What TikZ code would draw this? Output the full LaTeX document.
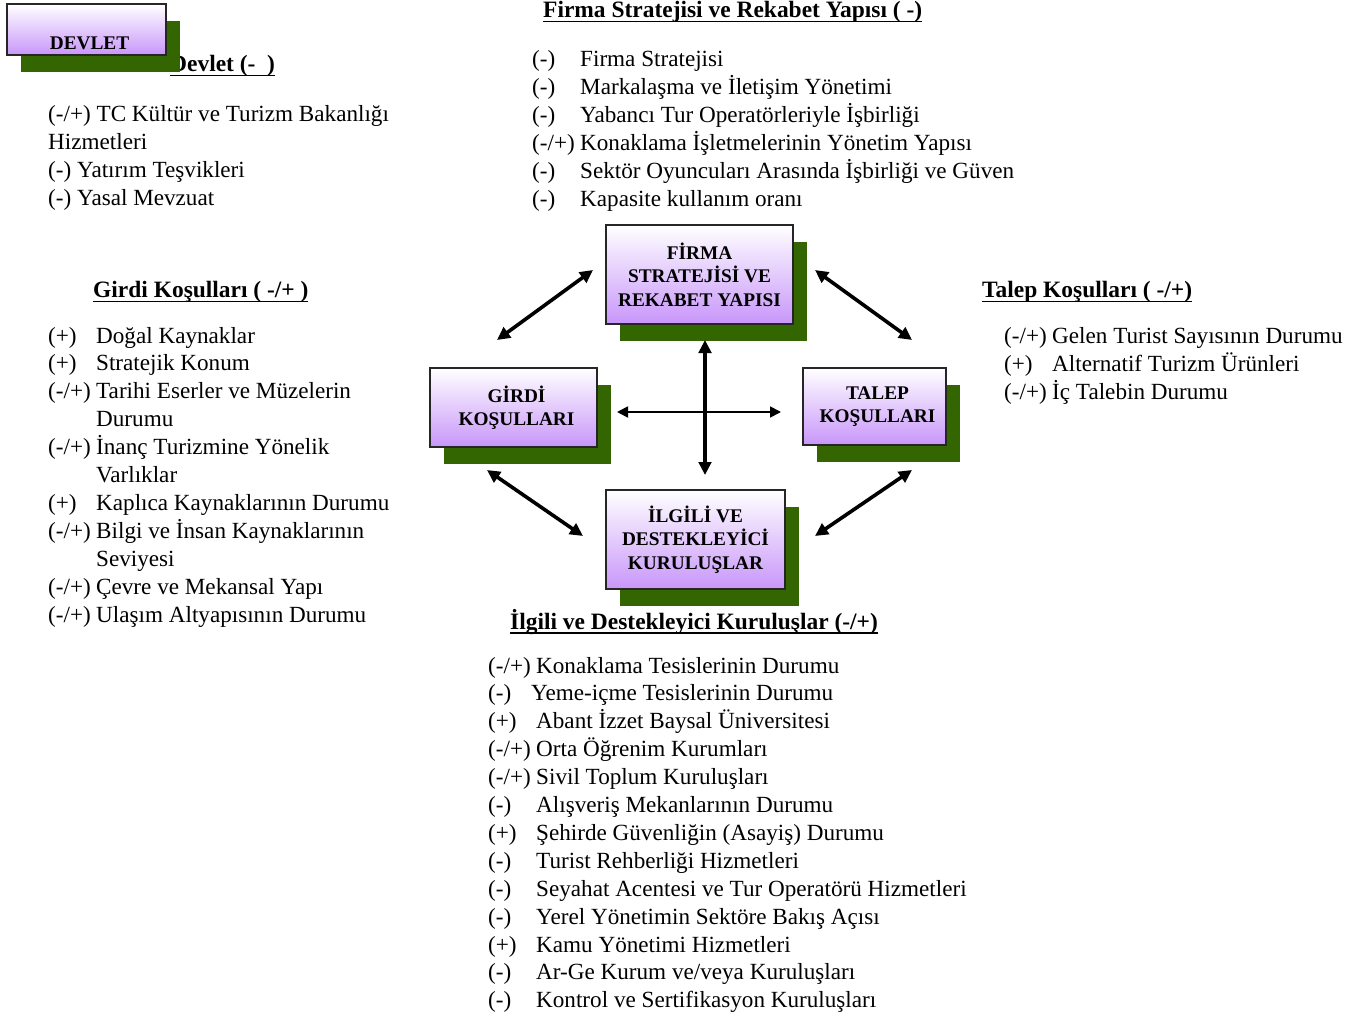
\documentclass[tikz,border=0pt]{standalone}
\usepackage{fontspec}
\setmainfont{Liberation Serif}
\usetikzlibrary{arrows.meta}
\definecolor{shgreen}{RGB}{51,102,0}
\definecolor{boxviolet}{RGB}{200,150,250}
\newcommand\ulx[1]{\setbox0\hbox{#1}\rlap{\rule[-4.5pt]{\wd0}{1.5pt}}\box0}
\newcommand\lsi[3][48pt]{\makebox[#1][l]{#2}#3}
\newcommand\boxsh[4]{\fill[shgreen] ({#1+14},{#2+17}) rectangle ({#3+14},{#4+17});}
\newcommand\sh{\hspace*{6pt}}
\begin{document}
\begin{tikzpicture}[x=1pt,y=-1pt,
  txt/.style={inner sep=0pt, anchor=base west, font=\fontsize{23.15}{28}\selectfont},
  head/.style={inner sep=0pt, anchor=base west, font=\fontsize{23.45}{28}\selectfont\bfseries},
  bx/.style={draw=black!85, line width=1.2pt, top color=white, bottom color=boxviolet,
    align=center, inner sep=0pt, font=\fontsize{19.3}{23.5}\selectfont\bfseries},
  bigarrow/.style={line width=3.6pt, {Triangle[length=13pt,width=12.5pt]}-{Triangle[length=13pt,width=12.5pt]}},
  smallarrow/.style={line width=1.8pt, {Triangle[length=11pt,width=11pt]}-{Triangle[length=11pt,width=11pt]}}]
\useasboundingbox (0,0) rectangle (1353,1019);

% headings
\node[head] (hdevlet) at (170,72) {\ulx{Devlet (-\ \ )}};
\node[head] (hfirma) at (543,18) {\ulx{Firma Stratejisi ve Rekabet Yapısı ( -)}};
\node[head] (hgirdi) at (93,298) {\ulx{Girdi Koşulları ( -/+ )}};
\node[head] (htalep) at (982,298) {\ulx{Talep Koşulları ( -/+)}};
\node[head] (hilgili) at (510,629) {\ulx{İlgili ve Destekleyici Kuruluşlar (-/+)}};

% Devlet list
\foreach \t [count=\i] in {{(-/+) TC Kültür ve Turizm Bakanlığı},{Hizmetleri},{(-) Yatırım Teşvikleri},{(-) Yasal Mevzuat}}
  \node[txt, name=dl\i] at (48,{122+27.7*(\i-1)}) {\t};

% Firma list
\foreach \t [count=\i] in {{\lsi{(-)}{Firma Stratejisi}},{\lsi{(-)}{Markalaşma ve İletişim Yönetimi}},
  {\lsi{(-)}{Yabancı Tur Operatörleriyle İşbirliği}},{\lsi{(-/+)}{Konaklama İşletmelerinin Yönetim Yapısı}},
  {\lsi{(-)}{Sektör Oyuncuları Arasında İşbirliği ve Güven}},{\lsi{(-)}{Kapasite kullanım oranı}}}
  \node[txt, name=fl\i] at (532,{67+28*(\i-1)}) {\t};

% Girdi list
\foreach \t [count=\i] in {{\lsi{(+)}{Doğal Kaynaklar}},{\lsi{(+)}{Stratejik Konum}},
  {\lsi{(-/+)}{Tarihi Eserler ve Müzelerin}},{\lsi{}{Durumu}},
  {\lsi{(-/+)}{İnanç Turizmine Yönelik}},{\lsi{}{Varlıklar}},
  {\lsi{(+)}{Kaplıca Kaynaklarının Durumu}},{\lsi{(-/+)}{Bilgi ve İnsan Kaynaklarının}},
  {\lsi{}{Seviyesi}},{\lsi{(-/+)}{Çevre ve Mekansal Yapı}},{\lsi{(-/+)}{Ulaşım Altyapısının Durumu}}}
  \node[txt, name=gl\i] at (48,{343+27.9*(\i-1)}) {\t};

% Talep list
\foreach \t [count=\i] in {{\lsi{(-/+)}{Gelen Turist Sayısının Durumu}},{\lsi{(+)}{Alternatif Turizm Ürünleri}},
  {\lsi{(-/+)}{İç Talebin Durumu}}}
  \node[txt, name=tl\i] at (1004,{343+28*(\i-1)}) {\t};

% Ilgili list
\foreach \t [count=\i] in {{\lsi{(-/+)}{Konaklama Tesislerinin Durumu}},{\lsi[43pt]{(-)}{Yeme-içme Tesislerinin Durumu}},
  {\lsi{(+)}{Abant İzzet Baysal Üniversitesi}},{\lsi{(-/+)}{Orta Öğrenim Kurumları}},
  {\lsi{(-/+)}{Sivil Toplum Kuruluşları}},{\lsi{(-)}{Alışveriş Mekanlarının Durumu}},
  {\lsi{(+)}{Şehirde Güvenliğin (Asayiş) Durumu}},{\lsi{(-)}{Turist Rehberliği Hizmetleri}},
  {\lsi{(-)}{Seyahat Acentesi ve Tur Operatörü Hizmetleri}},{\lsi{(-)}{Yerel Yönetimin Sektöre Bakış Açısı}},
  {\lsi{(+)}{Kamu Yönetimi Hizmetleri}},{\lsi{(-)}{Ar-Ge Kurum ve/veya Kuruluşları}},
  {\lsi{(-)}{Kontrol ve Sertifikasyon Kuruluşları}}}
  \node[txt, name=il\i] at (488,{673+27.9*(\i-1)}) {\t};

% shadows
\boxsh{7}{4}{166}{55}
\boxsh{606}{225}{793}{324}
\boxsh{430}{368}{597}{447}
\boxsh{803}{368}{946}{445}
\boxsh{606}{490}{785}{589}

% boxes
\node[bx, minimum width=159, minimum height=51] (devlet) at (86.5,29.5) {\raisebox{-20pt}[0pt][0pt]{\sh DEVLET}};
\node[bx, minimum width=187, minimum height=99] (firma) at (699.5,274.5) {FİRMA\\STRATEJİSİ VE\\REKABET YAPISI};
\node[bx, minimum width=167, minimum height=79] (girdi) at (513.5,407.5) {\sh GİRDİ\\\sh KOŞULLARI};
\node[bx, minimum width=143, minimum height=77] (talep) at (874.5,406.5) {\sh TALEP\\\sh KOŞULLARI};
\node[bx, minimum width=179, minimum height=99] (ilgili) at (695.5,539.5) {İLGİLİ VE\\DESTEKLEYİCİ\\KURULUŞLAR};

% arrow ends
\coordinate (gf1) at (497,340); \coordinate (gf2) at (593,270);
\coordinate (ft1) at (815,270); \coordinate (ft2) at (912,340);
\coordinate (gi1) at (487,470); \coordinate (gi2) at (583,536);
\coordinate (ti1) at (912,470); \coordinate (ti2) at (815,536);
\coordinate (v1) at (705,340); \coordinate (v2) at (705,475);
\coordinate (h1) at (617,412); \coordinate (h2) at (781,412);

\draw[bigarrow] (gf1) -- (gf2);
\draw[bigarrow] (ft1) -- (ft2);
\draw[bigarrow] (gi1) -- (gi2);
\draw[bigarrow] (ti1) -- (ti2);
\draw[bigarrow] (v1) -- (v2);
\draw[smallarrow] (h1) -- (h2);
\end{tikzpicture}
\end{document}
